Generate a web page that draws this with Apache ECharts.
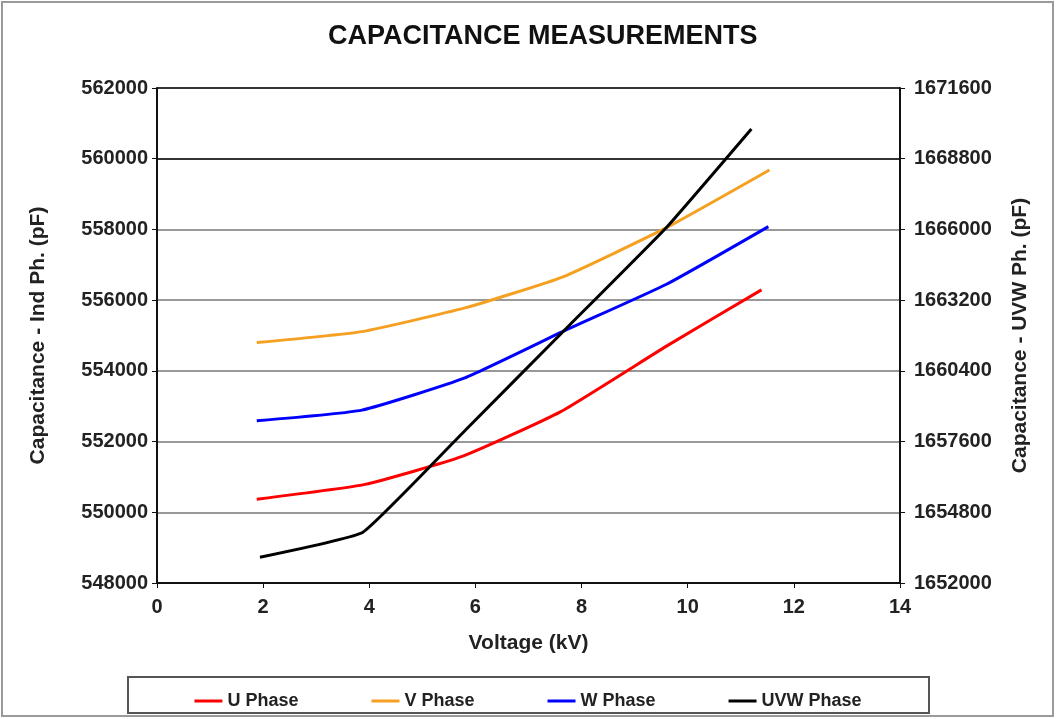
<!DOCTYPE html>
<html>
<head>
<meta charset="utf-8">
<script src="https://cdn.jsdelivr.net/npm/echarts@6/dist/echarts.min.js"></script>
<style>
html,body{margin:0;padding:0;background:#fff;}
#chart{width:1056px;height:719px;}
</style>
</head>
<body>
<div id="chart"></div>
<script>
// Data
const seriesNames = ['U Phase', 'V Phase', 'W Phase', 'UVW Phase'];
const uX = [1.88, 3.92, 5.75, 7.6, 9.6, 11.39];
const uY = [550370, 550790, 551580, 552840, 554700, 556290];
const vX = [1.88, 3.86, 5.8, 7.65, 9.6, 11.54];
const vY = [554800, 555110, 555780, 556660, 558050, 559680];
const wX = [1.88, 3.86, 5.8, 7.7, 9.6, 11.52];
const wY = [552590, 552890, 553800, 555150, 556450, 558080];
const uvwX = [1.94, 3.88, 5.8, 7.7, 9.6, 11.2];
const uvwY = [1653020, 1654010, 1658030, 1662060, 1666080, 1669980];

const xTicks = {min: 0, max: 14, interval: 2};
const leftTicks = {min: 548000, max: 562000, interval: 2000};
const rightTicks = {min: 1652000, max: 1671600, interval: 2800};

const pair = (xs, ys) => xs.map((x, i) => [x, ys[i]]);
const FONT = '"Liberation Sans", Arial, sans-serif';
const labelStyle = {fontFamily: FONT, fontSize: 20, fontWeight: 'bold', color: '#222', formatter: v => String(v)};
const nameStyle = {fontFamily: FONT, fontSize: 21, fontWeight: 'bold', color: '#222'};

const chart = echarts.init(document.getElementById('chart'), null, {renderer: 'canvas'});
const colors = ['#ff0000', '#f5a020', '#0000ff', '#000000'];

chart.setOption({
  animation: false,
  backgroundColor: '#fff',
  title: {
    text: 'CAPACITANCE MEASUREMENTS',
    left: 323, top: 18,
    textStyle: {fontFamily: FONT, fontSize: 27, fontWeight: 'bold', color: '#111'}
  },
  grid: {left: 157, right: 156, top: 88, bottom: 136, containLabel: false},
  legend: {
    data: seriesNames,
    left: 'center', top: 687,
    icon: 'rect',
    itemWidth: 28, itemHeight: 3, itemGap: 73,
    textStyle: {fontFamily: FONT, fontSize: 18, fontWeight: 'bold', color: '#222'}
  },
  graphic: [
    {type: 'rect', shape: {x: 2, y: 2, width: 1051, height: 714}, style: {fill: 'none', stroke: '#9a9a9a', lineWidth: 2}, silent: true, z: -1},
    {type: 'rect', shape: {x: 128, y: 677, width: 801, height: 36}, style: {fill: 'none', stroke: '#555', lineWidth: 2}, silent: true}
  ],
  xAxis: {
    type: 'value', min: xTicks.min, max: xTicks.max, interval: xTicks.interval,
    name: 'Voltage (kV)', nameLocation: 'middle', nameGap: 50, nameTextStyle: nameStyle,
    axisLine: {show: true, onZero: false, lineStyle: {color: '#111', width: 2}},
    axisTick: {show: true, inside: false, length: 5, lineStyle: {color: '#111', width: 1}},
    axisLabel: Object.assign({}, labelStyle, {margin: 14}),
    splitLine: {show: false}
  },
  yAxis: [
    {
      type: 'value', position: 'left', min: leftTicks.min, max: leftTicks.max, interval: leftTicks.interval,
      name: 'Capacitance - Ind Ph. (pF)', nameLocation: 'middle', nameGap: 108, nameTextStyle: nameStyle,
      axisLine: {show: true, lineStyle: {color: '#111', width: 2}},
      axisTick: {show: true, inside: false, length: 5, lineStyle: {color: '#111', width: 1}},
      axisLabel: Object.assign({}, labelStyle, {margin: 9}),
      splitLine: {show: true, lineStyle: {color: ['#222', '#999', '#999', '#999', '#999', '#999', '#333', '#333'], width: 2}}
    },
    {
      type: 'value', position: 'right', min: rightTicks.min, max: rightTicks.max, interval: rightTicks.interval,
      name: 'Capacitance - UVW Ph. (pF)', nameLocation: 'middle', nameGap: 110, nameTextStyle: nameStyle,
      axisLine: {show: true, lineStyle: {color: '#111', width: 2}},
      axisTick: {show: true, inside: false, length: 5, lineStyle: {color: '#111', width: 1}},
      axisLabel: Object.assign({}, labelStyle, {margin: 14}),
      splitLine: {show: false}
    }
  ],
  series: [
    {name: seriesNames[0], type: 'line', yAxisIndex: 0, data: pair(uX, uY), smooth: 0.15, symbol: 'none', lineStyle: {color: colors[0], width: 3}, itemStyle: {color: colors[0]}},
    {name: seriesNames[1], type: 'line', yAxisIndex: 0, data: pair(vX, vY), smooth: 0.15, symbol: 'none', lineStyle: {color: colors[1], width: 3}, itemStyle: {color: colors[1]}},
    {name: seriesNames[2], type: 'line', yAxisIndex: 0, data: pair(wX, wY), smooth: 0.15, symbol: 'none', lineStyle: {color: colors[2], width: 3}, itemStyle: {color: colors[2]}},
    {name: seriesNames[3], type: 'line', yAxisIndex: 1, data: pair(uvwX, uvwY), smooth: 0.1, symbol: 'none', lineStyle: {color: colors[3], width: 3}, itemStyle: {color: colors[3]}}
  ]
});
</script>
</body>
</html>
